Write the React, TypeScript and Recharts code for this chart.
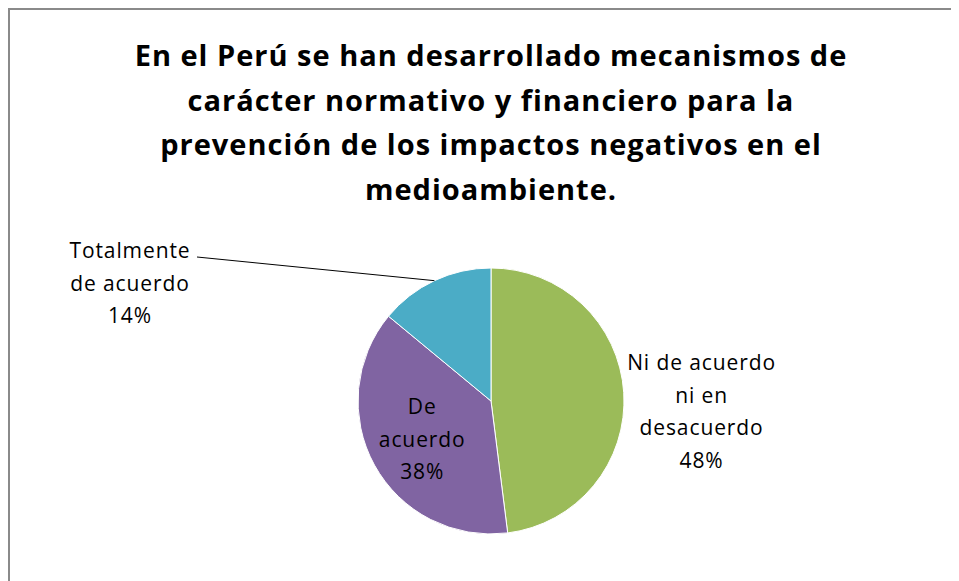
import { PieChart, Pie, Cell } from "recharts";

// survey answers, clockwise from 12 o'clock
const categories = ["Ni de acuerdo ni en desacuerdo", "De acuerdo", "Totalmente de acuerdo"];
const percents = [48, 38, 14];
const colors = ["#9BBB59", "#8064A2", "#4BACC6"];
// how each category name wraps in its label
const labelLines = [
  ["Ni de acuerdo", "ni en", "desacuerdo"],
  ["De", "acuerdo"],
  ["Totalmente", "de acuerdo"],
];
const titleLines = [
  "En el Perú se han desarrollado mecanismos de",
  "carácter normativo y financiero para la",
  "prevención de los impactos negativos en el",
  "medioambiente.",
];

const data = categories.map((name, i) => ({ name, value: percents[i] }));

const FONT = "'Open Sans', 'Noto Sans', sans-serif";
const RAD = Math.PI / 180;

function renderLabel(props: any) {
  const { cx, cy, midAngle, outerRadius, index, value } = props;
  const lines = [...labelLines[index], `${value}%`];
  const lh = 32.5;
  const cos = Math.cos(-midAngle * RAD);
  const sin = Math.sin(-midAngle * RAD);
  let x = 0;
  let y0 = 0;
  let leader: any = null;

  if (index === 0) {
    // outside, right of the pie
    x = cx + (outerRadius + 78) * cos;
    y0 = cy + 10 - ((lines.length - 1) * lh) / 2;
  } else if (index === 1) {
    // inside the slice
    x = cx + outerRadius * 0.59 * cos;
    y0 = cy + outerRadius * 0.59 * sin - lh;
  } else {
    // outside, top left, with leader line
    const px = cx + outerRadius * cos;
    const py = cy + outerRadius * sin;
    const ex = cx - 294;
    const ey = cy - 144;
    leader = <line x1={px} y1={py} x2={ex} y2={ey} stroke="#000" strokeWidth={1} />;
    x = cx - 361;
    y0 = cy - 151;
  }

  return (
    <g key={`lbl-${index}`}>
      {leader}
      {lines.map((t, i) => (
        <text
          key={i}
          x={x}
          y={y0 + i * lh}
          textAnchor="middle"
          dominantBaseline="central"
          fontFamily={FONT}
          fontSize={21}
          letterSpacing={0.9}
          fill="#000"
        >
          {t}
        </text>
      ))}
    </g>
  );
}

export default function App() {
  return (
    <div
      style={{
        width: 951,
        height: 573,
        overflow: "hidden",
        position: "relative",
        boxSizing: "border-box",
        borderTop: "2px solid #8a8a8a",
        borderLeft: "2px solid #8a8a8a",
        background: "#fff",
        fontFamily: FONT,
      }}
    >
      <div
        style={{
          position: "absolute",
          left: 31,
          top: 23,
          width: 900,
          textAlign: "center",
          fontWeight: 700,
          fontSize: 29,
          letterSpacing: 1,
          lineHeight: "44.5px",
          color: "#000",
        }}
      >
        {titleLines.map((t, i) => (
          <div key={i}>{t}</div>
        ))}
      </div>
      <PieChart width={949} height={571} style={{ position: "absolute", left: 0, top: 0 }}>
        <Pie
          data={data}
          dataKey="value"
          nameKey="name"
          cx={476}
          cy={386}
          outerRadius={133}
          startAngle={90}
          endAngle={-270}
          stroke="#fff"
          strokeWidth={1}
          label={renderLabel}
          labelLine={false}
          isAnimationActive={false}
        >
          {data.map((d, i) => (
            <Cell key={d.name} fill={colors[i]} />
          ))}
        </Pie>
      </PieChart>
    </div>
  );
}
